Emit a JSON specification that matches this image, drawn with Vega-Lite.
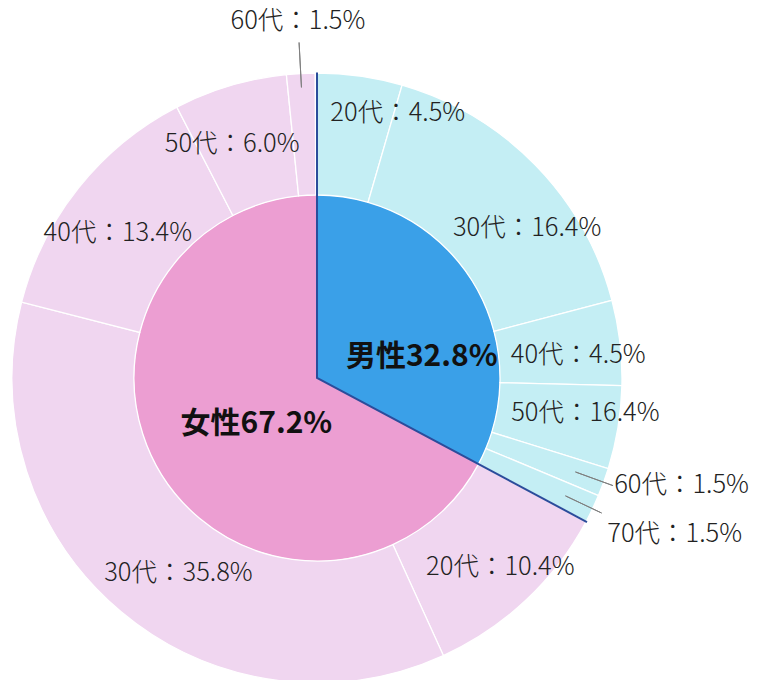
{
  "$schema": "https://vega.github.io/schema/vega-lite/v6.json",
  "width": 634,
  "height": 604,
  "padding": {"left": 0, "top": 76, "right": 126, "bottom": 0},
  "autosize": {"type": "none"},
  "background": "white",
  "config": {
    "view": {"stroke": null},
    "text": {"font": "Noto Sans CJK JP", "fontSize": 25.5, "fontWeight": 300, "fill": "#222222", "align": "center", "baseline": "middle"}
  },
  "datasets": {
    "inner": [
      {"gender": "男性", "share": 32.8, "idx": 1, "label": "男性32.8%"},
      {"gender": "女性", "share": 67.2, "idx": 2, "label": "女性67.2%"}
    ],
    "outer": [
      {"key": "M20", "gender": "男性", "age": "20代", "share": 4.5, "idx": 1, "label": "20代：4.5%"},
      {"key": "M30", "gender": "男性", "age": "30代", "share": 16.4, "idx": 2, "label": "30代：16.4%"},
      {"key": "M40", "gender": "男性", "age": "40代", "share": 4.5, "idx": 3, "label": "40代：4.5%"},
      {"key": "M50", "gender": "男性", "age": "50代", "share": 4.4, "idx": 4, "label": "50代：16.4%"},
      {"key": "M60", "gender": "男性", "age": "60代", "share": 1.5, "idx": 5, "label": "60代：1.5%"},
      {"key": "M70", "gender": "男性", "age": "70代", "share": 1.5, "idx": 6, "label": "70代：1.5%"},
      {"key": "W20", "gender": "女性", "age": "20代", "share": 10.4, "idx": 7, "label": "20代：10.4%"},
      {"key": "W30", "gender": "女性", "age": "30代", "share": 35.8, "idx": 8, "label": "30代：35.8%"},
      {"key": "W40", "gender": "女性", "age": "40代", "share": 13.4, "idx": 9, "label": "40代：13.4%"},
      {"key": "W50", "gender": "女性", "age": "50代", "share": 6.0, "idx": 10, "label": "50代：6.0%"},
      {"key": "W60", "gender": "女性", "age": "60代", "share": 1.5, "idx": 11, "label": "60代：1.5%"}
    ]
  },
  "resolve": {"scale": {"color": "independent"}},
  "layer": [
    {
      "data": {"name": "inner"},
      "mark": {"type": "arc", "innerRadius": 0, "outerRadius": 183},
      "encoding": {
        "theta": {"field": "share", "type": "quantitative", "stack": true},
        "order": {"field": "idx", "type": "quantitative"},
        "color": {"field": "gender", "type": "nominal", "legend": null,
          "scale": {"domain": ["男性", "女性"], "range": ["#3AA0E8", "#EC9ED2"]}}
      }
    },
    {
      "data": {"name": "outer"},
      "mark": {"type": "arc", "innerRadius": 183, "outerRadius": 305, "stroke": "#ffffff", "strokeWidth": 1.3},
      "encoding": {
        "theta": {"field": "share", "type": "quantitative", "stack": true},
        "order": {"field": "idx", "type": "quantitative"},
        "color": {"field": "gender", "type": "nominal", "legend": null,
          "scale": {"domain": ["男性", "女性"], "range": ["#C4EEF4", "#F0D6F0"]}}
      }
    },
    {
      "data": {"name": "inner"},
      "transform": [{"filter": "datum.gender === '男性'"}],
      "mark": {"type": "arc", "innerRadius": 0, "outerRadius": 306, "fillOpacity": 0, "stroke": "#2B4C9B", "strokeWidth": 2, "strokeDash": [0, 631, 1000]},
      "encoding": {
        "theta": {"field": "share", "type": "quantitative", "stack": true},
        "order": {"field": "idx", "type": "quantitative"}
      }
    },
    {
      "data": {"name": "outer"},
      "mark": {"type": "arc", "innerRadius": 275, "outerRadius": 315, "padAngle": 3, "fillOpacity": 0, "stroke": "#7f7f7f", "strokeWidth": 1},
      "encoding": {
        "theta": {"field": "share", "type": "quantitative", "stack": true},
        "order": {"field": "idx", "type": "quantitative"},
        "strokeOpacity": {"condition": {"test": "datum.key === 'M60' || datum.key === 'M70'", "value": 1}, "value": 0}
      }
    },
    {
      "data": {"name": "outer"},
      "mark": {"type": "arc", "innerRadius": 291, "outerRadius": 336, "padAngle": 3, "fillOpacity": 0, "stroke": "#7f7f7f", "strokeWidth": 1},
      "encoding": {
        "theta": {"field": "share", "type": "quantitative", "stack": true},
        "order": {"field": "idx", "type": "quantitative"},
        "strokeOpacity": {"condition": {"test": "datum.key === 'W60'", "value": 1}, "value": 0}
      }
    },
    {
      "data": {"name": "inner"},
      "mark": {"type": "text", "radius": 100, "dx": 19, "dy": 30, "fontSize": 30, "fontWeight": "bold", "fill": "#111111"},
      "encoding": {
        "theta": {"field": "share", "type": "quantitative", "stack": true},
        "order": {"field": "idx", "type": "quantitative"},
        "text": {"condition": {"test": "datum.gender === '男性'", "field": "label"}, "value": ""}
      }
    },
    {
      "data": {"name": "inner"},
      "mark": {"type": "text", "radius": 80, "dx": 8, "dy": 5, "fontSize": 30, "fontWeight": "bold", "fill": "#111111"},
      "encoding": {
        "theta": {"field": "share", "type": "quantitative", "stack": true},
        "order": {"field": "idx", "type": "quantitative"},
        "text": {"condition": {"test": "datum.gender === '女性'", "field": "label"}, "value": ""}
      }
    },
    {
      "data": {"name": "outer"},
      "mark": {"type": "text", "radius": 268, "dx": 43, "dy": 0},
      "encoding": {
        "theta": {"field": "share", "type": "quantitative", "stack": true},
        "order": {"field": "idx", "type": "quantitative"},
        "text": {"condition": {"test": "datum.key === 'M20'", "field": "label"}, "value": ""}
      }
    },
    {
      "data": {"name": "outer"},
      "mark": {"type": "text", "radius": 260, "dx": 24, "dy": 32},
      "encoding": {
        "theta": {"field": "share", "type": "quantitative", "stack": true},
        "order": {"field": "idx", "type": "quantitative"},
        "text": {"condition": {"test": "datum.key === 'M30'", "field": "label"}, "value": ""}
      }
    },
    {
      "data": {"name": "outer"},
      "mark": {"type": "text", "radius": 261, "dx": 2, "dy": 7},
      "encoding": {
        "theta": {"field": "share", "type": "quantitative", "stack": true},
        "order": {"field": "idx", "type": "quantitative"},
        "text": {"condition": {"test": "datum.key === 'M40'", "field": "label"}, "value": ""}
      }
    },
    {
      "data": {"name": "outer"},
      "mark": {"type": "text", "radius": 270, "dx": 2, "dy": -9},
      "encoding": {
        "theta": {"field": "share", "type": "quantitative", "stack": true},
        "order": {"field": "idx", "type": "quantitative"},
        "text": {"condition": {"test": "datum.key === 'M50'", "field": "label"}, "value": ""}
      }
    },
    {
      "data": {"name": "outer"},
      "mark": {"type": "text", "radius": 313, "dx": 3, "dy": 0, "align": "left"},
      "encoding": {
        "theta": {"field": "share", "type": "quantitative", "stack": true},
        "order": {"field": "idx", "type": "quantitative"},
        "text": {"condition": {"test": "datum.key === 'M60'", "field": "label"}, "value": ""}
      }
    },
    {
      "data": {"name": "outer"},
      "mark": {"type": "text", "radius": 318, "dx": 3, "dy": 20, "align": "left"},
      "encoding": {
        "theta": {"field": "share", "type": "quantitative", "stack": true},
        "order": {"field": "idx", "type": "quantitative"},
        "text": {"condition": {"test": "datum.key === 'M70'", "field": "label"}, "value": ""}
      }
    },
    {
      "data": {"name": "outer"},
      "mark": {"type": "text", "radius": 262, "dx": 4, "dy": -2},
      "encoding": {
        "theta": {"field": "share", "type": "quantitative", "stack": true},
        "order": {"field": "idx", "type": "quantitative"},
        "text": {"condition": {"test": "datum.key === 'W20'", "field": "label"}, "value": ""}
      }
    },
    {
      "data": {"name": "outer"},
      "mark": {"type": "text", "radius": 250, "dx": 22, "dy": 3},
      "encoding": {
        "theta": {"field": "share", "type": "quantitative", "stack": true},
        "order": {"field": "idx", "type": "quantitative"},
        "text": {"condition": {"test": "datum.key === 'W30'", "field": "label"}, "value": ""}
      }
    },
    {
      "data": {"name": "outer"},
      "mark": {"type": "text", "radius": 252, "dx": -2, "dy": 12},
      "encoding": {
        "theta": {"field": "share", "type": "quantitative", "stack": true},
        "order": {"field": "idx", "type": "quantitative"},
        "text": {"condition": {"test": "datum.key === 'W40'", "field": "label"}, "value": ""}
      }
    },
    {
      "data": {"name": "outer"},
      "mark": {"type": "text", "radius": 245, "dx": -15, "dy": 1},
      "encoding": {
        "theta": {"field": "share", "type": "quantitative", "stack": true},
        "order": {"field": "idx", "type": "quantitative"},
        "text": {"condition": {"test": "datum.key === 'W50'", "field": "label"}, "value": ""}
      }
    },
    {
      "data": {"name": "outer"},
      "mark": {"type": "text", "radius": 358, "dx": 0, "dy": 0},
      "encoding": {
        "theta": {"field": "share", "type": "quantitative", "stack": true},
        "order": {"field": "idx", "type": "quantitative"},
        "text": {"condition": {"test": "datum.key === 'W60'", "field": "label"}, "value": ""}
      }
    }
  ]
}
